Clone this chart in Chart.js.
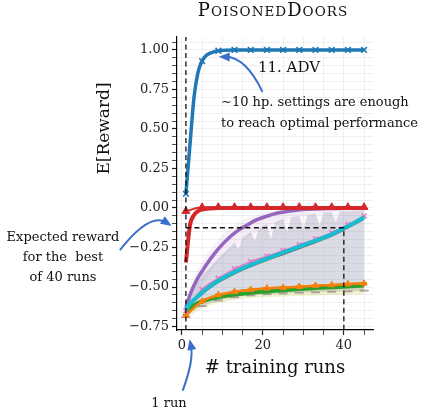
<!DOCTYPE html>
<html><head><meta charset="utf-8">
<script src="https://cdn.jsdelivr.net/npm/chart.js@4.4.1/dist/chart.umd.min.js"></script>
<style>html,body{margin:0;padding:0;background:#fff;}#wrap{width:427px;height:411px;}</style>
</head><body><div id="wrap"><canvas id="c" width="427" height="411"></canvas></div>
<script>
// ---------- texts ----------
const TITLE_PARTS = [['P','OISONED'],['D','OORS']];
const X_LABEL = '# training runs';
const Y_LABEL = 'E[Reward]';
const ADV_LABEL = '11. ADV';
const HINT_LINES = ['\u223C10 hp. settings are enough','to reach optimal performance'];
const LEFT_LINES = ['Expected reward','for the  best','of 40 runs'];
const ONE_RUN = '1 run';
const Y_MAJOR_STEP = 0.25;
const X_MAJOR_STEP = 20;

// ---------- data ----------
const MARK_X = [1,5,9,13,17,21,25,29,33,37,41,45];
const FIRST_RUN = 1, BEST_OF = 40, BEST_OF_VALUE = -0.125;

const advX = [1,2,3,4,5,6,7,9,13,17,21,25,29,33,37,41,45];
const advY = [0.09,0.40,0.70,0.86,0.93,0.965,0.98,0.995,1,1,1,1,1,1,1,1,1];

const redFitX = [1,2,3,4,5,7,9,13,17,21,25,29,33,37,41,45];
const redFitY = [-0.345,-0.11,-0.045,-0.02,-0.01,-0.003,0,0,0,0,0,0,0,0,0,0];
const redMarkY = [-0.02,0.004,0.005,0.005,0.005,0.005,0.005,0.005,0.005,0.005,0.005,0.005];

const purpleX = [1,2,3,4,5,6,8,10,12,14,16,18,20,24,28,32,36,40,45];
const purpleY = [-0.63,-0.55,-0.49,-0.44,-0.40,-0.36,-0.29,-0.23,-0.18,-0.14,-0.11,-0.08,-0.06,-0.03,-0.015,-0.007,-0.003,-0.001,0];
const purpleHi = [-0.60,-0.50,-0.43,-0.38,-0.34,-0.30,-0.23,-0.17,-0.13,-0.09,-0.065,-0.045,-0.03,-0.012,-0.004,0,0,0,0];
const purpleLo = [-0.66,-0.61,-0.57,-0.53,-0.49,-0.45,-0.38,-0.32,-0.27,-0.23,-0.19,-0.16,-0.13,-0.09,-0.06,-0.04,-0.03,-0.02,-0.015];

const cyanX = [1,2,3,5,7,9,13,17,21,25,29,33,37,40,43,45];
const cyanY = [-0.64,-0.605,-0.58,-0.535,-0.495,-0.46,-0.405,-0.36,-0.32,-0.283,-0.245,-0.207,-0.167,-0.128,-0.088,-0.058];
const brownY = [-0.65,-0.617,-0.592,-0.547,-0.507,-0.472,-0.417,-0.372,-0.332,-0.295,-0.257,-0.219,-0.179,-0.14,-0.1,-0.07];
const pinkY = [-0.65,-0.515,-0.445,-0.385,-0.34,-0.305,-0.27,-0.233,-0.196,-0.156,-0.105,-0.05];

const orangeY = [-0.68,-0.59,-0.55,-0.53,-0.517,-0.508,-0.503,-0.498,-0.491,-0.487,-0.481,-0.477];
const greenX = [1,2,3,5,9,13,17,21,25,29,33,37,41,45];
const greenY = [-0.67,-0.635,-0.615,-0.59,-0.565,-0.548,-0.536,-0.528,-0.52,-0.513,-0.507,-0.501,-0.496,-0.491];
const greenMarkY = [-0.675,-0.588,-0.548,-0.527,-0.514,-0.505,-0.5,-0.495,-0.489,-0.485,-0.479,-0.474];
const greyMarkY = [-0.69,-0.62,-0.585,-0.565,-0.553,-0.545,-0.54,-0.536,-0.533,-0.53,-0.527,-0.523];
const oliveLo = [-0.70,-0.635,-0.60,-0.58,-0.57,-0.565,-0.56,-0.556,-0.553,-0.55,-0.548,-0.545];

const greyBandX = [1,3,5,9,13,14,15,17,18,19,21,22,23,25,26,27,29,30,31,33,34,35,37,38,39,41,45];
const greyHi = [-0.62,-0.50,-0.43,-0.32,-0.22,-0.26,-0.19,-0.15,-0.21,-0.13,-0.10,-0.20,-0.09,-0.07,-0.15,-0.06,-0.05,-0.13,-0.045,-0.035,-0.11,-0.03,-0.025,-0.09,-0.02,-0.02,-0.015];
const greyLo = [-0.69,-0.645,-0.62,-0.585,-0.565,-0.562,-0.559,-0.553,-0.551,-0.548,-0.545,-0.544,-0.542,-0.54,-0.539,-0.538,-0.536,-0.535,-0.535,-0.533,-0.532,-0.531,-0.53,-0.529,-0.528,-0.527,-0.523];

// ---------- helpers ----------
const pts = (xs, ys) => xs.map((x,i)=>({x, y: ys[i]}));
const markR = r => ctx => (ctx.raw && MARK_X.includes(ctx.raw.x)) ? r : 0;
const band = (xs, ys, color, order, fill) => ({data: pts(xs,ys), borderWidth:0, pointRadius:0, backgroundColor:color, fill: fill, order, tension:0, borderColor:'rgba(0,0,0,0)'});
const line = (xs, ys, color, w, order, extra) => Object.assign({data: pts(xs,ys), borderColor:color, backgroundColor:color, borderWidth:w, pointRadius:0, fill:false, order, cubicInterpolationMode:'monotone'}, extra||{});

const FONT = "'DejaVu Serif', serif";
Chart.defaults.font.family = FONT;

const datasets = [
  band(purpleX, purpleLo, 'rgba(0,0,0,0)', 100, false),
  band(purpleX, purpleHi, 'rgba(148,103,189,0.08)', 100, '-1'),
  band(cyanX, cyanY, 'rgba(0,0,0,0)', 98, false),
  band(purpleX, purpleY, 'rgba(227,119,194,0.06)', 98, '-1'),
  band(greyBandX, greyLo, 'rgba(0,0,0,0)', 96, false),
  band(greyBandX, greyHi, 'rgba(150,158,182,0.36)', 96, '-1'),
  band(MARK_X, oliveLo, 'rgba(0,0,0,0)', 94, false),
  band(greenX, greenY, 'rgba(188,189,34,0.22)', 94, '-1'),
  line(MARK_X, greyMarkY, 'rgba(130,120,115,0.6)', 0, 20, {pointRadius: 4.5, pointStyle:'line', pointBorderWidth:2, showLine:false}),
  line(greenX, greenY, '#2ca02c', 4, 18),
  line(MARK_X, greenMarkY, '#2ca02c', 1, 17, {pointRadius: 3, pointStyle:'cross', pointBorderWidth:1.5}),
  line(MARK_X, orangeY, '#ff7f0e', 2.5, 16, {pointRadius: 3.5, pointStyle:'triangle', pointBorderWidth:1}),
  line(purpleX, purpleY, '#9467bd', 3.5, 14),
  line(cyanX, brownY, '#8c564b', 1.2, 13),
  line(MARK_X, pinkY, '#e377c2', 1.5, 12, {pointRadius: 3.5, pointStyle:'crossRot', pointBorderWidth:1.5}),
  line(cyanX, cyanY, '#17becf', 4, 11),
  line(redFitX, redFitY, '#d62728', 4, 9),
  line(MARK_X, redMarkY, '#d62728', 2, 8, {pointRadius: 4.5, pointStyle:'triangle', pointBorderWidth:1}),
  line(advX, advY, '#1f77b4', 3.5, 5, {pointRadius: markR(4), pointStyle:'crossRot', pointBorderWidth:1.6}),
];

function isMajor(v, step){ const q = v/step; return Math.abs(q - Math.round(q)) < 1e-6; }

function arrow(ctx, p0, c, p1, color){
  ctx.save();
  ctx.strokeStyle = color; ctx.fillStyle = color; ctx.lineWidth = 2; ctx.setLineDash([]);
  const ang = Math.atan2(p1.y - c.y, p1.x - c.x);
  const L = 11, W = 4.5;
  const ex = p1.x - Math.cos(ang)*L*0.6, ey = p1.y - Math.sin(ang)*L*0.6;
  ctx.beginPath(); ctx.moveTo(p0.x, p0.y); ctx.quadraticCurveTo(c.x, c.y, ex, ey); ctx.stroke();
  const bx = p1.x - Math.cos(ang)*L, by = p1.y - Math.sin(ang)*L;
  ctx.beginPath(); ctx.moveTo(p1.x, p1.y);
  ctx.lineTo(bx + Math.sin(ang)*W, by - Math.cos(ang)*W);
  ctx.lineTo(bx - Math.sin(ang)*W, by + Math.cos(ang)*W);
  ctx.closePath(); ctx.fill();
  ctx.restore();
}

const deco = {
  id: 'deco',
  afterDatasetsDraw(chart){
    const {ctx, chartArea:a, scales:{x, y}} = chart;
    ctx.save();
    ctx.strokeStyle = '#111'; ctx.lineWidth = 1.3; ctx.setLineDash([5,3.5]);
    const xf = x.getPixelForValue(FIRST_RUN), xb = x.getPixelForValue(BEST_OF), yb = y.getPixelForValue(BEST_OF_VALUE);
    ctx.beginPath(); ctx.moveTo(xf, a.bottom); ctx.lineTo(xf, a.top); ctx.stroke();
    ctx.beginPath(); ctx.moveTo(xf, yb); ctx.lineTo(xb, yb); ctx.lineTo(xb, a.bottom); ctx.stroke();
    ctx.restore();
  },
  afterDraw(chart){
    const {ctx, chartArea:a, scales:{x, y}} = chart;
    const P = (vx, vy) => ({x: x.getPixelForValue(vx), y: y.getPixelForValue(vy)});
    ctx.save();
    ctx.fillStyle = '#111';
    const big = `18px ${FONT}`, small = `13.5px ${FONT}`;
    try { ctx.letterSpacing = '1px'; } catch(e){}
    let total = 0;
    TITLE_PARTS.forEach(([c, r]) => { ctx.font = big; total += ctx.measureText(c).width; ctx.font = small; total += ctx.measureText(r).width; });
    let tx = 273 - total/2;
    ctx.textBaseline = 'alphabetic'; ctx.textAlign = 'left';
    TITLE_PARTS.forEach(([c, r]) => {
      ctx.font = big; ctx.fillText(c, tx, 16); tx += ctx.measureText(c).width;
      ctx.font = small; ctx.fillText(r, tx, 16); tx += ctx.measureText(r).width;
    });
    try { ctx.letterSpacing = '0px'; } catch(e){}
    ctx.font = `18px ${FONT}`; ctx.textAlign = 'center';
    ctx.fillText(X_LABEL, (a.left + a.right)/2, 373);
    ctx.save(); ctx.translate(109, 128.5); ctx.rotate(-Math.PI/2);
    ctx.font = `17px ${FONT}`; ctx.fillText(Y_LABEL, 0, 0); ctx.restore();
    ctx.textAlign = 'left';
    ctx.font = `15px ${FONT}`; ctx.fillText(ADV_LABEL, 258, 72);
    ctx.font = `13px ${FONT}`;
    ctx.fillText(HINT_LINES[0], 221, 106);
    ctx.fillText(HINT_LINES[1], 221, 127);
    ctx.textAlign = 'center';
    LEFT_LINES.forEach((t, i) => ctx.fillText(t, 63, 241 + i*20));
    ctx.fillText(ONE_RUN, 169, 407);
    ctx.restore();
    const AC = '#3a6fcb';
    arrow(ctx, P(19.9, 0.735), P(15.8, 0.955), P(9.1, 0.957), AC);
    arrow(ctx, P(-15.3, -0.266), P(-7.9, -0.025), P(-2.5, -0.114), AC);
    arrow(ctx, P(0.2, -1.156), P(3.0, -0.962), P(1.9, -0.83), AC);
  }
};

new Chart(document.getElementById('c'), {
  type: 'line',
  data: { datasets },
  options: {
    responsive: false, animation: false, devicePixelRatio: 1,
    layout: { padding: { left: 0, top: 37, right: 54, bottom: 0 } },
    plugins: { legend: {display:false}, tooltip: {enabled:false}, title: {display:false} },
    scales: {
      x: {
        type: 'linear', min: -1.2, max: 47.2,
        afterFit: s => { s.height = 81; },
        border: { display: true, color: '#000', width: 1.2 },
        grid: { color: '#ececec', lineWidth: 0.8, tickColor: '#222', tickLength: 5, tickWidth: c => isMajor(c.tick.value, X_MAJOR_STEP) ? 1.2 : 0.8 },
        ticks: { stepSize: 5, autoSkip: false, includeBounds: false, maxRotation: 0, padding: 3, color: '#222', font: { size: 13, family: FONT },
          callback: v => isMajor(v, X_MAJOR_STEP) ? String(Math.round(v)) : '' }
      },
      y: {
        type: 'linear', min: -0.772, max: 1.082,
        afterFit: s => { s.width = 177; },
        border: { display: true, color: '#000', width: 1.2 },
        grid: { color: '#ececec', lineWidth: 0.8, tickColor: '#222', tickLength: 5, tickWidth: c => isMajor(c.tick.value, Y_MAJOR_STEP) ? 1.2 : 0.8 },
        ticks: { stepSize: 0.05, autoSkip: false, includeBounds: false, padding: 3, color: '#222', font: { size: 13, family: FONT },
          callback: v => { if (!isMajor(v, Y_MAJOR_STEP)) return ''; const r = Math.round(v/Y_MAJOR_STEP)*Y_MAJOR_STEP; return (Math.abs(r) < 1e-9 ? 0 : r).toFixed(2).replace('-', '\u2212'); } }
      }
    }
  },
  plugins: [deco]
});
</script></body></html>
